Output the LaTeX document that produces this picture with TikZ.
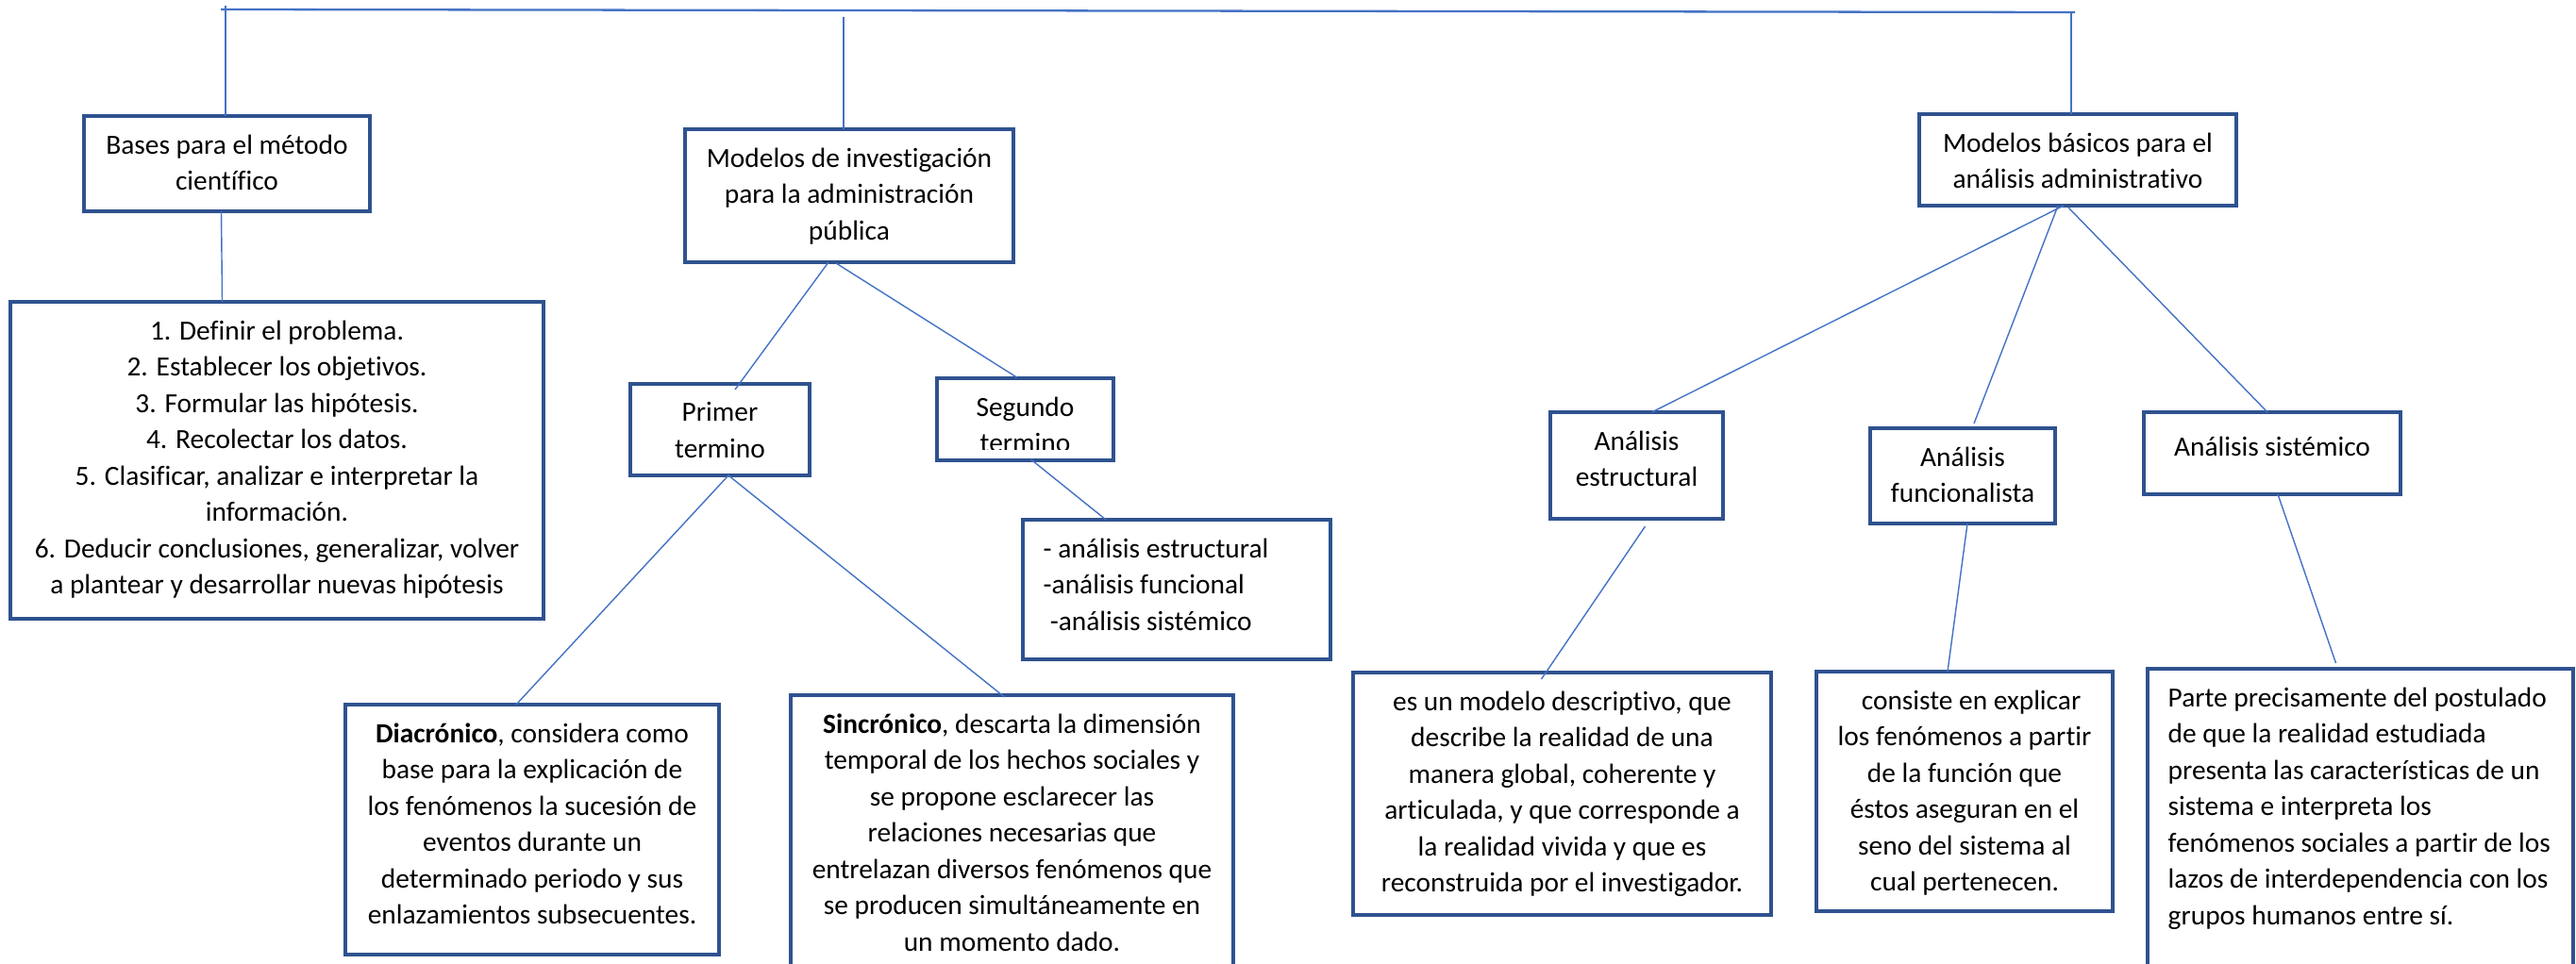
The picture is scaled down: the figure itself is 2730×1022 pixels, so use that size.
\documentclass[tikz,border=0pt]{standalone}
\usepackage{fontspec}
\setmainfont{Carlito}[Ligatures={NoCommon}]
\usetikzlibrary{
  calc,
  positioning
}
\definecolor{bordeazul}{RGB}{47,82,143}
\definecolor{lineaazul}{RGB}{68,114,196}
\tikzset{
  caja/.style 2 args={draw=bordeazul, line width=1pt, fill=white, rectangle,
    inner sep=0pt, outer sep=0pt, anchor=north west,
    minimum width=#1*0.01cm, minimum height=#2*0.01cm},
  texto/.style={anchor=north, yshift=-0.19cm, align=center, inner sep=0pt,
    font=\fontsize{8.36}{10.95}\selectfont, execute at begin node=\strut},
  textoizq/.style={texto, anchor=north west, xshift=0.21cm, align=left},
  enlace/.style={draw=lineaazul, line width=0.4pt},
  barra/.style={draw=lineaazul, line width=0.65pt}
}

\begin{document}
\begin{tikzpicture}[x=0.01cm, y=-0.01cm]
  \path[use as bounding box, clip] (0,0) rectangle (2730,1022);

  % cajas
  \node[caja={303}{101}] (bases)   at (89,123)   {};
  \node[caja={565}{336}] (pasos)   at (11,320)   {};
  \node[caja={348}{141}] (modinv)  at (726,137)  {};
  \node[caja={190}{97}]  (primer)  at (668,407)  {};
  \node[caja={187}{87}]  (segundo) at (993,401)  {};
  \node[caja={326}{148}] (analist) at (1084,551) {};
  \node[caja={396}{265}] (diacr)   at (366,747)  {};
  \node[caja={469}{330}] (sincr)   at (838,737)  {};
  \node[caja={336}{97}]  (modbas)  at (2034,121) {};
  \node[caja={183}{113}] (aest)    at (1643,437) {};
  \node[caja={196}{101}] (afun)    at (1982,454) {};
  \node[caja={272}{87}]  (asis)    at (2272,437) {};
  \node[caja={443}{257}] (dest)    at (1434,713) {};
  \node[caja={314}{254}] (dfun)    at (1925,712) {};
  \node[caja={451}{350}] (dsis)    at (2276,709) {};

  % textos
  \node[texto] (basesT) at (bases.north) {Bases para el método\\científico};
  \node[texto] (pasosT) at (pasos.north) {1. Definir el problema.\\2. Establecer los objetivos.\\3. Formular las hipótesis.\\4. Recolectar los datos.\\5. Clasificar, analizar e interpretar la\\información.\\6. Deducir conclusiones, generalizar, volver\\a plantear y desarrollar nuevas hipótesis};
  \node[texto] (modinvT) at (modinv.north) {Modelos de investigación\\para la administración\\pública};
  \node[texto] (primerT) at (primer.north) {Primer\\termino};
  \begin{scope}
    \clip (segundo.north west) rectangle ($(segundo.south east)+(0,-11)$);
    \node[texto] (segundoT) at (segundo.north) {Segundo\\termino};
  \end{scope}
  \node[textoizq] (analistT) at (analist.north west) {- análisis estructural\\-análisis funcional\\\hspace*{2pt}-análisis sistémico};
  \node[texto] (diacrT) at (diacr.north) {\textbf{Diacrónico}, considera como\\base para la explicación de\\los fenómenos la sucesión de\\eventos durante un\\determinado periodo y sus\\enlazamientos subsecuentes.};
  \node[texto] (sincrT) at (sincr.north) {\textbf{Sincrónico}, descarta la dimensión\\temporal de los hechos sociales y\\se propone esclarecer las\\relaciones necesarias que\\entrelazan diversos fenómenos que\\se producen simultáneamente en\\un momento dado.};
  \node[texto] (modbasT) at (modbas.north) {Modelos básicos para el\\análisis administrativo};
  \node[texto] (aestT) at (aest.north) {Análisis\\estructural};
  \node[texto] (afunT) at (afun.north) {Análisis\\funcionalista};
  \node[texto] (asisT) at (asis.north) {Análisis sistémico};
  \node[texto] (destT) at (dest.north) {es un modelo descriptivo, que\\describe la realidad de una\\manera global, coherente y\\articulada, y que corresponde a\\la realidad vivida y que es\\reconstruida por el investigador.};
  \node[texto] (dfunT) at (dfun.north) {\hspace*{4pt}consiste en explicar\\los fenómenos a partir\\de la función que\\éstos aseguran en el\\seno del sistema al\\cual pertenecen.};
  \node[textoizq] (dsisT) at (dsis.north west) {Parte precisamente del postulado\\de que la realidad estudiada\\presenta las características de un\\sistema e interpreta los\\fenómenos sociales a partir de los\\lazos de interdependencia con los\\grupos humanos entre sí.};

  % barra superior
  \coordinate (barraI) at (234,10);
  \coordinate (barraD) at (2199,13);
  \coordinate (picoI) at (239,6);
  \coordinate (picoC) at (894,18);
  \coordinate (picoD) at (2195,13);
  \draw[barra] (barraI) -- (barraD);
  \draw[enlace] (picoI) -- (picoI |- bases.north);
  \draw[enlace] (picoC) -- (picoC |- modinv.north);
  \draw[enlace] (picoD) -- (picoD |- modbas.north);

  % enlaces
  \draw[enlace] ($(bases.south)+(-6,0)$) -- ($(pasos.north)+(-58,0)$);
  \draw[enlace] ($(modinv.south)+(-22,0)$) -- ($(primer.north)+(16,6)$);
  \draw[enlace] ($(modinv.south)+(-14,1)$) -- ($(segundo.north)+(-9,-1)$);
  \draw[enlace] ($(primer.south)+(9,0)$) -- ($(diacr.north)+(-17,0)$);
  \draw[enlace] ($(primer.south)+(9,0)$) -- ($(sincr.north)+(-8,2)$);
  \draw[enlace] ($(segundo.south)+(6,-1)$) -- ($(analist.north)+(-75,0)$);
  \draw[enlace] ($(modbas.south)+(-15,0)$) -- ($(aest.north)+(16,0)$);
  \draw[enlace] ($(modbas.south)+(-21,0)$) -- ($(afun.north)+(12,-5)$);
  \draw[enlace] ($(modbas.south)+(-10,2)$) -- ($(asis.north)+(-5,0)$);
  \draw[enlace] ($(aest.south)+(9,8)$) -- ($(dest.north)+(-22,7)$);
  \draw[enlace] ($(afun.south)+(5,0)$) -- ($(dfun.north)+(-18,0)$);
  \draw[enlace] ($(asis.south)+(6,0)$) -- ($(dsis.north)+(-26,-6)$);
\end{tikzpicture}
\end{document}
